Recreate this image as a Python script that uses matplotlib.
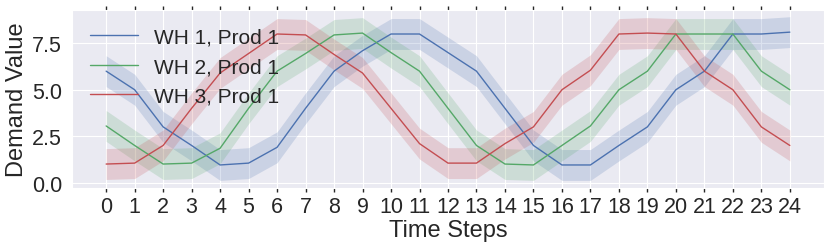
import numpy as np
import matplotlib
matplotlib.use('Agg')
import matplotlib.pyplot as plt
import seaborn as sns

# demand per time step
steps = np.arange(25)
wh1 = [6.0, 5.0, 3.0, 2.0, 0.95, 1.05, 1.9, 4.0, 6.0, 7.1, 8.0, 8.0, 7.0,
       6.0, 4.0, 2.0, 0.95, 0.95, 2.0, 3.0, 5.0, 6.0, 8.0, 8.0, 8.1]
wh2 = [3.05, 2.0, 1.0, 1.05, 1.85, 4.0, 6.0, 6.95, 7.95, 8.05, 7.0, 6.0, 4.0,
       2.0, 1.0, 0.95, 2.0, 3.05, 5.0, 6.0, 8.0, 8.0, 8.0, 6.0, 5.0]
wh3 = [1.0, 1.05, 2.0, 4.0, 5.9, 6.95, 8.0, 7.95, 6.9, 5.9, 4.0, 2.1, 1.05,
       1.05, 2.1, 3.0, 5.0, 6.05, 8.0, 8.05, 8.0, 6.0, 5.0, 3.0, 2.0]
labels = ['WH 1, Prod 1', 'WH 2, Prod 1', 'WH 3, Prod 1']
band = 0.83

sns.set_style('darkgrid')
plt.rcParams['font.family'] = ['Liberation Sans', 'DejaVu Sans']

fig = plt.figure(figsize=(8.31, 2.51), dpi=100)
ax = fig.add_axes([0.0866, 0.247, 0.905, 0.709])

colors = sns.color_palette('deep')
for vals, lab, col in zip([wh1, wh2, wh3], labels, [colors[0], colors[2], colors[3]]):
    vals = np.array(vals)
    ax.plot(steps, vals, color=col, lw=1.0, label=lab)
    ax.fill_between(steps, vals - band, vals + band, color=col, alpha=0.2, lw=0)

ax.set_xlim(-1.2, 25.2)
ax.set_ylim(-0.29, 9.29)
ax.set_xticks(steps)
ax.set_yticks([0, 2.5, 5.0, 7.5])
ax.tick_params(axis='x', labelsize=15.5, top=True, bottom=True, length=3,
               width=1, color='#262626', direction='out', pad=3)
ax.tick_params(axis='y', labelsize=15.5, left=False)
ax.set_xlabel('Time Steps', fontsize=17, labelpad=1)
ax.set_ylabel('Demand Value', fontsize=17, labelpad=3)
ax.legend(loc='upper left', fontsize=15, frameon=False, handlelength=2.3,
          handletextpad=0.8, borderaxespad=0.45, labelspacing=0.5)

fig.savefig('out.png', dpi=100)
